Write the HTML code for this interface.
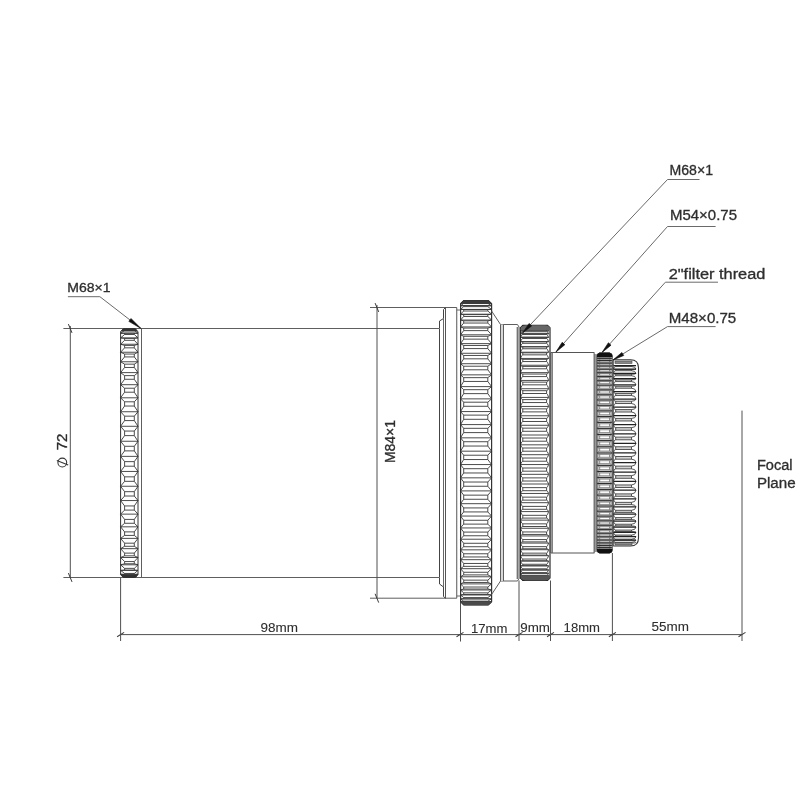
<!DOCTYPE html><html><head><meta charset="utf-8"><style>html,body{margin:0;padding:0;background:#fff;width:800px;height:800px;overflow:hidden}svg{display:block;will-change:transform}</style></head><body><svg width="800" height="800" viewBox="0 0 800 800" shape-rendering="geometricPrecision">
<rect width="800" height="800" fill="#fff"/>
<g font-family="&apos;Liberation Sans&apos;, sans-serif">
<line x1="63.4" y1="328.5" x2="439" y2="328.5" stroke="#5e5e5e" stroke-width="1"/>
<line x1="63.4" y1="577.5" x2="439" y2="577.5" stroke="#5e5e5e" stroke-width="1"/>
<line x1="70.3" y1="326" x2="70.3" y2="577.5" stroke="#505050" stroke-width="1"/>
<line x1="68.4" y1="324.1" x2="72" y2="332.9" stroke="#3a3a3a" stroke-width="1"/>
<line x1="68.4" y1="573.1" x2="72" y2="581.9" stroke="#3a3a3a" stroke-width="1"/>
<line x1="370" y1="307.5" x2="456.75" y2="307.5" stroke="#5e5e5e" stroke-width="1"/>
<line x1="370" y1="598.2" x2="456.75" y2="598.2" stroke="#5e5e5e" stroke-width="1"/>
<line x1="377" y1="305" x2="377" y2="598.2" stroke="#505050" stroke-width="1"/>
<line x1="375.1" y1="303.1" x2="378.7" y2="311.9" stroke="#3a3a3a" stroke-width="1"/>
<line x1="375.1" y1="593.8" x2="378.7" y2="602.6" stroke="#3a3a3a" stroke-width="1"/>
<line x1="120.6" y1="634.6" x2="742" y2="634.6" stroke="#505050" stroke-width="1"/>
<line x1="117.1" y1="636.8" x2="124.1" y2="632.4" stroke="#3a3a3a" stroke-width="1.05"/>
<line x1="456.5" y1="636.8" x2="463.5" y2="632.4" stroke="#3a3a3a" stroke-width="1.05"/>
<line x1="515.5" y1="636.8" x2="522.5" y2="632.4" stroke="#3a3a3a" stroke-width="1.05"/>
<line x1="547" y1="636.8" x2="554" y2="632.4" stroke="#3a3a3a" stroke-width="1.05"/>
<line x1="608.9" y1="636.8" x2="615.9" y2="632.4" stroke="#3a3a3a" stroke-width="1.05"/>
<line x1="738.5" y1="636.8" x2="745.5" y2="632.4" stroke="#3a3a3a" stroke-width="1.05"/>
<line x1="120.6" y1="577.5" x2="120.6" y2="641" stroke="#505050" stroke-width="1"/>
<line x1="460.5" y1="600" x2="460.5" y2="641.5" stroke="#505050" stroke-width="1"/>
<line x1="519" y1="580.5" x2="519" y2="641" stroke="#505050" stroke-width="1"/>
<line x1="550.5" y1="580.5" x2="550.5" y2="641" stroke="#505050" stroke-width="1"/>
<line x1="612.4" y1="553" x2="612.4" y2="641" stroke="#505050" stroke-width="1"/>
<line x1="742" y1="410.6" x2="742" y2="641" stroke="#505050" stroke-width="1"/>
<line x1="141.5" y1="328.5" x2="141.5" y2="577.5" stroke="#5e5e5e" stroke-width="1"/>
<path d="M124.6 329.1H134.3M122.8 329.4L124.6 329.1M135.8 329.4L134.3 329.1M124.6 329.1H134.3M124.6 329.1L121.8 330.4M134.3 329.1L136.8 330.4M124.6 329.1V329.1M134.3 329.1V329.1M124.6 329.59H134.3M121.8 330.4L124.6 329.59M136.8 330.4L134.3 329.59M124.6 330.45H134.3M124.6 330.45L120.6 333.25M134.3 330.45L138 333.25M124.6 329.59V330.45M134.3 329.59V330.45M124.6 333.09H134.3M120.6 333.25L124.6 333.09M138 333.25L134.3 333.09M124.6 334.5H134.3M124.6 334.5L120.6 337.88M134.3 334.5L138 337.88M124.6 333.09V334.5M134.3 333.09V334.5M124.6 338.39H134.3M120.6 337.88L124.6 338.39M138 337.88L134.3 338.39M124.6 340.32H134.3M124.6 340.32L120.6 344.25M134.3 340.32L138 344.25M124.6 338.39V340.32M134.3 338.39V340.32M124.6 345.41H134.3M120.6 344.25L124.6 345.41M138 344.25L134.3 345.41M124.6 347.84H134.3M124.6 347.84L120.6 352.24M134.3 347.84L138 352.24M124.6 345.41V347.84M134.3 345.41V347.84M124.6 354.05H134.3M120.6 352.24L124.6 354.05M138 352.24L134.3 354.05M124.6 356.93H134.3M124.6 356.93L120.6 361.75M134.3 356.93L138 361.75M124.6 354.05V356.93M134.3 354.05V356.93M124.6 364.16H134.3M120.6 361.75L124.6 364.16M138 361.75L134.3 364.16M124.6 367.47H134.3M124.6 367.47L120.6 372.62M134.3 367.47L138 372.62M124.6 364.16V367.47M134.3 364.16V367.47M124.6 375.62H134.3M120.6 372.62L124.6 375.62M138 372.62L134.3 375.62M124.6 379.29H134.3M124.6 379.29L120.6 384.7M134.3 379.29L138 384.7M124.6 375.62V379.29M134.3 375.62V379.29M124.6 388.23H134.3M120.6 384.7L124.6 388.23M138 384.7L134.3 388.23M124.6 392.21H134.3M124.6 392.21L120.6 397.81M134.3 392.21L138 397.81M124.6 388.23V392.21M134.3 388.23V392.21M124.6 401.81H134.3M120.6 397.81L124.6 401.81M138 397.81L134.3 401.81M124.6 406.04H134.3M124.6 406.04L120.6 411.74M134.3 406.04L138 411.74M124.6 401.81V406.04M134.3 401.81V406.04M124.6 416.16H134.3M120.6 411.74L124.6 416.16M138 411.74L134.3 416.16M124.6 420.58H134.3M124.6 420.58L120.6 426.29M134.3 420.58L138 426.29M124.6 416.16V420.58M134.3 416.16V420.58M124.6 431.06H134.3M120.6 426.29L124.6 431.06M138 426.29L134.3 431.06M124.6 435.61H134.3M124.6 435.61L120.6 441.25M134.3 435.61L138 441.25M124.6 431.06V435.61M134.3 431.06V435.61M124.6 446.29H134.3M120.6 441.25L124.6 446.29M138 441.25L134.3 446.29M124.6 450.89H134.3M124.6 450.89L120.6 456.37M134.3 450.89L138 456.37M124.6 446.29V450.89M134.3 446.29V450.89M124.6 461.63H134.3M120.6 456.37L124.6 461.63M138 456.37L134.3 461.63M124.6 466.21H134.3M124.6 466.21L120.6 471.45M134.3 466.21L138 471.45M124.6 461.63V466.21M134.3 461.63V466.21M124.6 476.83H134.3M120.6 471.45L124.6 476.83M138 471.45L134.3 476.83M124.6 481.33H134.3M124.6 481.33L120.6 486.25M134.3 481.33L138 486.25M124.6 476.83V481.33M134.3 476.83V481.33M124.6 491.68H134.3M120.6 486.25L124.6 491.68M138 486.25L134.3 491.68M124.6 496.03H134.3M124.6 496.03L120.6 500.55M134.3 496.03L138 500.55M124.6 491.68V496.03M134.3 491.68V496.03M124.6 505.94H134.3M120.6 500.55L124.6 505.94M138 500.55L134.3 505.94M124.6 510.08H134.3M124.6 510.08L120.6 514.14M134.3 510.08L138 514.14M124.6 505.94V510.08M134.3 505.94V510.08M124.6 519.41H134.3M120.6 514.14L124.6 519.41M138 514.14L134.3 519.41M124.6 523.27H134.3M124.6 523.27L120.6 526.82M134.3 523.27L138 526.82M124.6 519.41V523.27M134.3 519.41V523.27M124.6 531.89H134.3M120.6 526.82L124.6 531.89M138 526.82L134.3 531.89M124.6 535.41H134.3M124.6 535.41L120.6 538.38M134.3 535.41L138 538.38M124.6 531.89V535.41M134.3 531.89V535.41M124.6 543.18H134.3M120.6 538.38L124.6 543.18M138 538.38L134.3 543.18M124.6 546.31H134.3M124.6 546.31L120.6 548.66M134.3 546.31L138 548.66M124.6 543.18V546.31M134.3 543.18V546.31M124.6 553.12H134.3M120.6 548.66L124.6 553.12M138 548.66L134.3 553.12M124.6 555.82H134.3M124.6 555.82L120.6 557.51M134.3 555.82L138 557.51M124.6 553.12V555.82M134.3 553.12V555.82M124.6 561.56H134.3M120.6 557.51L124.6 561.56M138 557.51L134.3 561.56M124.6 563.78H134.3M124.6 563.78L120.6 564.8M134.3 563.78L138 564.8M124.6 561.56V563.78M134.3 561.56V563.78M124.6 568.37H134.3M120.6 564.8L124.6 568.37M138 564.8L134.3 568.37M124.6 570.08H134.3M124.6 570.08L120.6 570.4M134.3 570.08L138 570.4M124.6 568.37V570.08M134.3 568.37V570.08M124.6 573.45H134.3M120.6 570.4L124.6 573.45M138 570.4L134.3 573.45M124.6 574.62H134.3M124.6 574.62L120.6 574.25M134.3 574.62L138 574.25M124.6 573.45V574.62M134.3 573.45V574.62M124.6 576.72H134.3M120.6 574.25L124.6 576.72M138 574.25L134.3 576.72M124.6 577.2H134.3M124.6 577.2L122.17 576.27M134.3 577.2L136.43 576.27M124.6 576.72V577.2M134.3 576.72V577.2M124.6 577.2H134.3M122.17 576.27L124.6 577.2M136.43 576.27L134.3 577.2M124.6 577.2V577.2M134.3 577.2V577.2" stroke="#383838" stroke-width="0.9" fill="none"/>
<path d="M122.8 329.4H135.8M121.8 330.4H136.8M120.6 333.25H138M120.6 337.88H138M120.6 344.25H138M120.6 352.24H138M120.6 361.75H138M120.6 372.62H138M120.6 384.7H138M120.6 397.81H138M120.6 411.74H138M120.6 426.29H138M120.6 441.25H138M120.6 456.37H138M120.6 471.45H138M120.6 486.25H138M120.6 500.55H138M120.6 514.14H138M120.6 526.82H138M120.6 538.38H138M120.6 548.66H138M120.6 557.51H138M120.6 564.8H138M120.6 570.4H138M120.6 574.25H138M122.17 576.27H136.43" stroke="#383838" stroke-width="0.9" fill="none"/>
<path d="M120.6 331.6 L123.4 328.8 L135.2 328.8 L138 331.6 L138 574.7 L135.2 577.5 L123.4 577.5 L120.6 574.7 Z" stroke="#333" stroke-width="1" fill="none"/>
<path d="M120.6 331.6 L123.4 328.8 H135.2 L138 331.6 Z" fill="#333"/>
<path d="M120.6 574.7 L123.4 577.5 H135.2 L138 574.7 Z" fill="#333"/>
<path d="M439.5 328.5 L439.5 321 L443.5 318.5 L443.5 309.5 L445.5 307.5" stroke="#444" stroke-width="1" fill="none"/>
<path d="M439.5 577.5 L439.5 584 L443.5 587 L443.5 596.5 L445.5 598.2" stroke="#444" stroke-width="1" fill="none"/>
<line x1="439.5" y1="328.5" x2="439.5" y2="577.5" stroke="#444" stroke-width="1"/>
<line x1="443.5" y1="318.5" x2="443.5" y2="587" stroke="#666" stroke-width="1"/>
<line x1="445.5" y1="307.5" x2="445.5" y2="598.2" stroke="#555" stroke-width="1"/>
<line x1="456.75" y1="307.5" x2="456.75" y2="598.2" stroke="#555" stroke-width="1"/>
<line x1="456.75" y1="310" x2="460.5" y2="310" stroke="#666" stroke-width="1"/>
<line x1="456.75" y1="596" x2="460.5" y2="596" stroke="#666" stroke-width="1"/>
<path d="M463.7 300.8H487.8M463.7 300.8L462.18 302.02M487.8 300.8L489.92 302.02M463.7 300.8V300.8M487.8 300.8V300.8M463.7 300.95H487.8M462.18 302.02L463.7 300.95M489.92 302.02L487.8 300.95M463.7 301.35H487.8M463.7 301.35L460.87 303.33M487.8 301.35L491.23 303.33M463.7 300.95V301.35M487.8 300.95V301.35M463.7 302.62H487.8M460.87 303.33L463.7 302.62M491.23 303.33L487.8 302.62M463.7 303.4H487.8M463.7 303.4L460.5 305.81M487.8 303.4L491.6 305.81M463.7 302.62V303.4M487.8 302.62V303.4M463.7 305.47H487.8M460.5 305.81L463.7 305.47M491.6 305.81L487.8 305.47M463.7 306.63H487.8M463.7 306.63L460.5 309.44M487.8 306.63L491.6 309.44M463.7 305.47V306.63M487.8 305.47V306.63M463.7 309.48H487.8M460.5 309.44L463.7 309.48M491.6 309.44L487.8 309.48M463.7 311H487.8M463.7 311L460.5 314.19M487.8 311L491.6 314.19M463.7 309.48V311M487.8 309.48V311M463.7 314.61H487.8M460.5 314.19L463.7 314.61M491.6 314.19L487.8 314.61M463.7 316.49H487.8M463.7 316.49L460.5 320.04M487.8 316.49L491.6 320.04M463.7 314.61V316.49M487.8 314.61V316.49M463.7 320.83H487.8M460.5 320.04L463.7 320.83M491.6 320.04L487.8 320.83M463.7 323.04H487.8M463.7 323.04L460.5 326.93M487.8 323.04L491.6 326.93M463.7 320.83V323.04M487.8 320.83V323.04M463.7 328.09H487.8M460.5 326.93L463.7 328.09M491.6 326.93L487.8 328.09M463.7 330.62H487.8M463.7 330.62L460.5 334.8M487.8 330.62L491.6 334.8M463.7 328.09V330.62M487.8 328.09V330.62M463.7 336.32H487.8M460.5 334.8L463.7 336.32M491.6 334.8L487.8 336.32M463.7 339.15H487.8M463.7 339.15L460.5 343.61M487.8 339.15L491.6 343.61M463.7 336.32V339.15M487.8 336.32V339.15M463.7 345.47H487.8M460.5 343.61L463.7 345.47M491.6 343.61L487.8 345.47M463.7 348.58H487.8M463.7 348.58L460.5 353.27M487.8 348.58L491.6 353.27M463.7 345.47V348.58M487.8 345.47V348.58M463.7 355.46H487.8M460.5 353.27L463.7 355.46M491.6 353.27L487.8 355.46M463.7 358.82H487.8M463.7 358.82L460.5 363.71M487.8 358.82L491.6 363.71M463.7 355.46V358.82M487.8 355.46V358.82M463.7 366.22H487.8M460.5 363.71L463.7 366.22M491.6 363.71L487.8 366.22M463.7 369.8H487.8M463.7 369.8L460.5 374.85M487.8 369.8L491.6 374.85M463.7 366.22V369.8M487.8 366.22V369.8M463.7 377.65H487.8M460.5 374.85L463.7 377.65M491.6 374.85L487.8 377.65M463.7 381.44H487.8M463.7 381.44L460.5 386.6M487.8 381.44L491.6 386.6M463.7 377.65V381.44M487.8 377.65V381.44M463.7 389.68H487.8M460.5 386.6L463.7 389.68M491.6 386.6L487.8 389.68M463.7 393.63H487.8M463.7 393.63L460.5 398.87M487.8 393.63L491.6 398.87M463.7 389.68V393.63M487.8 389.68V393.63M463.7 402.2H487.8M460.5 398.87L463.7 402.2M491.6 398.87L487.8 402.2M463.7 406.29H487.8M463.7 406.29L460.5 411.57M487.8 406.29L491.6 411.57M463.7 402.2V406.29M487.8 402.2V406.29M463.7 415.11H487.8M460.5 411.57L463.7 415.11M491.6 411.57L487.8 415.11M463.7 419.31H487.8M463.7 419.31L460.5 424.59M487.8 419.31L491.6 424.59M463.7 415.11V419.31M487.8 415.11V419.31M463.7 428.32H487.8M460.5 424.59L463.7 428.32M491.6 424.59L487.8 428.32M463.7 432.6H487.8M463.7 432.6L460.5 437.83M487.8 432.6L491.6 437.83M463.7 428.32V432.6M487.8 428.32V432.6M463.7 441.73H487.8M460.5 437.83L463.7 441.73M491.6 437.83L487.8 441.73M463.7 446.04H487.8M463.7 446.04L460.5 451.18M487.8 446.04L491.6 451.18M463.7 441.73V446.04M487.8 441.73V446.04M463.7 455.22H487.8M460.5 451.18L463.7 455.22M491.6 451.18L487.8 455.22M463.7 459.54H487.8M463.7 459.54L460.5 464.55M487.8 459.54L491.6 464.55M463.7 455.22V459.54M487.8 455.22V459.54M463.7 468.69H487.8M460.5 464.55L463.7 468.69M491.6 464.55L487.8 468.69M463.7 472.98H487.8M463.7 472.98L460.5 477.83M487.8 472.98L491.6 477.83M463.7 468.69V472.98M487.8 468.69V472.98M463.7 482.03H487.8M460.5 477.83L463.7 482.03M491.6 477.83L487.8 482.03M463.7 486.26H487.8M463.7 486.26L460.5 490.9M487.8 486.26L491.6 490.9M463.7 482.03V486.26M487.8 482.03V486.26M463.7 495.15H487.8M460.5 490.9L463.7 495.15M491.6 490.9L487.8 495.15M463.7 499.28H487.8M463.7 499.28L460.5 503.68M487.8 499.28L491.6 503.68M463.7 495.15V499.28M487.8 495.15V499.28M463.7 507.93H487.8M460.5 503.68L463.7 507.93M491.6 503.68L487.8 507.93M463.7 511.93H487.8M463.7 511.93L460.5 516.06M487.8 511.93L491.6 516.06M463.7 507.93V511.93M487.8 507.93V511.93M463.7 520.28H487.8M460.5 516.06L463.7 520.28M491.6 516.06L487.8 520.28M463.7 524.12H487.8M463.7 524.12L460.5 527.94M487.8 524.12L491.6 527.94M463.7 520.28V524.12M487.8 520.28V524.12M463.7 532.09H487.8M460.5 527.94L463.7 532.09M491.6 527.94L487.8 532.09M463.7 535.75H487.8M463.7 535.75L460.5 539.23M487.8 535.75L491.6 539.23M463.7 532.09V535.75M487.8 532.09V535.75M463.7 543.29H487.8M460.5 539.23L463.7 543.29M491.6 539.23L487.8 543.29M463.7 546.72H487.8M463.7 546.72L460.5 549.83M487.8 546.72L491.6 549.83M463.7 543.29V546.72M487.8 543.29V546.72M463.7 553.77H487.8M460.5 549.83L463.7 553.77M491.6 549.83L487.8 553.77M463.7 556.96H487.8M463.7 556.96L460.5 559.68M487.8 556.96L491.6 559.68M463.7 553.77V556.96M487.8 553.77V556.96M463.7 563.46H487.8M460.5 559.68L463.7 563.46M491.6 559.68L487.8 563.46M463.7 566.37H487.8M463.7 566.37L460.5 568.68M487.8 566.37L491.6 568.68M463.7 563.46V566.37M487.8 563.46V566.37M463.7 572.27H487.8M460.5 568.68L463.7 572.27M491.6 568.68L487.8 572.27M463.7 574.9H487.8M463.7 574.9L460.5 576.78M487.8 574.9L491.6 576.78M463.7 572.27V574.9M487.8 572.27V574.9M463.7 580.15H487.8M460.5 576.78L463.7 580.15M491.6 576.78L487.8 580.15M463.7 582.46H487.8M463.7 582.46L460.5 583.9M487.8 582.46L491.6 583.9M463.7 580.15V582.46M487.8 580.15V582.46M463.7 587.03H487.8M460.5 583.9L463.7 587.03M491.6 583.9L487.8 587.03M463.7 589.01H487.8M463.7 589.01L460.5 589.99M487.8 589.01L491.6 589.99M463.7 587.03V589.01M487.8 587.03V589.01M463.7 592.85H487.8M460.5 589.99L463.7 592.85M491.6 589.99L487.8 592.85M463.7 594.48H487.8M463.7 594.48L460.5 594.99M487.8 594.48L491.6 594.99M463.7 592.85V594.48M487.8 592.85V594.48M463.7 597.57H487.8M460.5 594.99L463.7 597.57M491.6 594.99L487.8 597.57M463.7 598.84H487.8M463.7 598.84L460.5 598.89M487.8 598.84L491.6 598.89M463.7 597.57V598.84M487.8 597.57V598.84M463.7 601.15H487.8M460.5 598.89L463.7 601.15M491.6 598.89L487.8 601.15M463.7 602.05H487.8M463.7 602.05L460.5 601.63M487.8 602.05L491.6 601.63M463.7 601.15V602.05M487.8 601.15V602.05M463.7 603.56H487.8M460.5 601.63L463.7 603.56M491.6 601.63L487.8 603.56M463.7 604.09H487.8M463.7 604.09L461.9 603.2M487.8 604.09L490.2 603.2M463.7 603.56V604.09M487.8 603.56V604.09M463.7 604.7H487.8M461.9 603.2L463.7 604.7M490.2 603.2L487.8 604.7M463.7 604.7H487.8M463.7 604.7V604.7M487.8 604.7V604.7" stroke="#383838" stroke-width="0.9" fill="none"/>
<path d="M462.18 302.02H489.92M460.87 303.33H491.23M460.5 305.81H491.6M460.5 309.44H491.6M460.5 314.19H491.6M460.5 320.04H491.6M460.5 326.93H491.6M460.5 334.8H491.6M460.5 343.61H491.6M460.5 353.27H491.6M460.5 363.71H491.6M460.5 374.85H491.6M460.5 386.6H491.6M460.5 398.87H491.6M460.5 411.57H491.6M460.5 424.59H491.6M460.5 437.83H491.6M460.5 451.18H491.6M460.5 464.55H491.6M460.5 477.83H491.6M460.5 490.9H491.6M460.5 503.68H491.6M460.5 516.06H491.6M460.5 527.94H491.6M460.5 539.23H491.6M460.5 549.83H491.6M460.5 559.68H491.6M460.5 568.68H491.6M460.5 576.78H491.6M460.5 583.9H491.6M460.5 589.99H491.6M460.5 594.99H491.6M460.5 598.89H491.6M460.5 601.63H491.6M461.9 603.2H490.2" stroke="#383838" stroke-width="0.9" fill="none"/>
<path d="M460.6 303.7 L463.8 300.5 L488.4 300.5 L491.6 303.7 L491.6 601.8 L488.4 605 L463.8 605 L460.6 601.8 Z" stroke="#333" stroke-width="1.2" fill="none"/>
<path d="M460.6 303.7 L463.8 300.5 H488.4 L491.6 303.7 Z" fill="#3a3a3a"/>
<path d="M460.6 601.8 L463.8 605 H488.4 L491.6 601.8 Z" fill="#4a4a4a"/>
<path d="M491.6 311 L500.5 324.5 L517.5 324.5 L519 327" stroke="#5e5e5e" stroke-width="1" fill="none"/>
<path d="M491.6 594.5 L500.5 581 L517.5 581 L519 578.5" stroke="#5e5e5e" stroke-width="1" fill="none"/>
<rect x="500.5" y="324.5" width="3" height="256.5" fill="#d8d8d8"/>
<line x1="500.5" y1="324.5" x2="500.5" y2="581" stroke="#5e5e5e" stroke-width="1"/>
<line x1="503.5" y1="324.5" x2="503.5" y2="581" stroke="#5e5e5e" stroke-width="1"/>
<rect x="517.2" y="327" width="3" height="252" fill="#a8a8a8"/>
<line x1="517.2" y1="327" x2="517.2" y2="579" stroke="#555" stroke-width="1"/>
<rect x="549.8" y="352.5" width="2.4" height="200.5" fill="#a8a8a8"/>
<path d="M522.8 325.6H546.6M521.17 327.13Q522.32 325.6 522.8 325.6M547.93 327.13Q546.93 325.6 546.6 325.6M522.8 325.63H546.6M522.8 325.63Q521.78 325.63 520.63 327.67M546.6 325.63Q547.47 325.63 548.47 327.67M522.8 325.6V325.63M546.6 325.6V325.63M522.8 326.26H546.6M520.63 327.67Q521.78 326.26 522.8 326.26M548.47 327.67Q547.47 326.26 546.6 326.26M522.8 326.68H546.6M522.8 326.68Q521.65 326.68 520.5 328.97M546.6 326.68Q547.6 326.68 548.6 328.97M522.8 326.26V326.68M546.6 326.26V326.68M522.8 327.84H546.6M520.5 328.97Q521.65 327.84 522.8 327.84M548.6 328.97Q547.6 327.84 546.6 327.84M522.8 328.5H546.6M522.8 328.5Q521.65 328.5 520.5 331.04M546.6 328.5Q547.6 328.5 548.6 331.04M522.8 327.84V328.5M546.6 327.84V328.5M522.8 330.19H546.6M520.5 331.04Q521.65 330.19 522.8 330.19M548.6 331.04Q547.6 330.19 546.6 330.19M522.8 331.1H546.6M522.8 331.1Q521.65 331.1 520.5 333.86M546.6 331.1Q547.6 331.1 548.6 333.86M522.8 330.19V331.1M546.6 330.19V331.1M522.8 333.29H546.6M520.5 333.86Q521.65 333.29 522.8 333.29M548.6 333.86Q547.6 333.29 546.6 333.29M522.8 334.44H546.6M522.8 334.44Q521.65 334.44 520.5 337.41M546.6 334.44Q547.6 334.44 548.6 337.41M522.8 333.29V334.44M546.6 333.29V334.44M522.8 337.14H546.6M520.5 337.41Q521.65 337.14 522.8 337.14M548.6 337.41Q547.6 337.14 546.6 337.14M522.8 338.52H546.6M522.8 338.52Q521.65 338.52 520.5 341.68M546.6 338.52Q547.6 338.52 548.6 341.68M522.8 337.14V338.52M546.6 337.14V338.52M522.8 341.69H546.6M520.5 341.68Q521.65 341.69 522.8 341.69M548.6 341.68Q547.6 341.69 546.6 341.69M522.8 343.3H546.6M522.8 343.3Q521.65 343.3 520.5 346.63M546.6 343.3Q547.6 343.3 548.6 346.63M522.8 341.69V343.3M546.6 341.69V343.3M522.8 346.93H546.6M520.5 346.63Q521.65 346.93 522.8 346.93M548.6 346.63Q547.6 346.93 546.6 346.93M522.8 348.75H546.6M522.8 348.75Q521.65 348.75 520.5 352.23M546.6 348.75Q547.6 348.75 548.6 352.23M522.8 346.93V348.75M546.6 346.93V348.75M522.8 352.83H546.6M520.5 352.23Q521.65 352.83 522.8 352.83M548.6 352.23Q547.6 352.83 546.6 352.83M522.8 354.85H546.6M522.8 354.85Q521.65 354.85 520.5 358.45M546.6 354.85Q547.6 354.85 548.6 358.45M522.8 352.83V354.85M546.6 352.83V354.85M522.8 359.34H546.6M520.5 358.45Q521.65 359.34 522.8 359.34M548.6 358.45Q547.6 359.34 546.6 359.34M522.8 361.55H546.6M522.8 361.55Q521.65 361.55 520.5 365.26M546.6 361.55Q547.6 361.55 548.6 365.26M522.8 359.34V361.55M546.6 359.34V361.55M522.8 366.43H546.6M520.5 365.26Q521.65 366.43 522.8 366.43M548.6 365.26Q547.6 366.43 546.6 366.43M522.8 368.81H546.6M522.8 368.81Q521.65 368.81 520.5 372.61M546.6 368.81Q547.6 368.81 548.6 372.61M522.8 366.43V368.81M546.6 366.43V368.81M522.8 374.05H546.6M520.5 372.61Q521.65 374.05 522.8 374.05M548.6 372.61Q547.6 374.05 546.6 374.05M522.8 376.59H546.6M522.8 376.59Q521.65 376.59 520.5 380.45M546.6 376.59Q547.6 376.59 548.6 380.45M522.8 374.05V376.59M546.6 374.05V376.59M522.8 382.15H546.6M520.5 380.45Q521.65 382.15 522.8 382.15M548.6 380.45Q547.6 382.15 546.6 382.15M522.8 384.84H546.6M522.8 384.84Q521.65 384.84 520.5 388.73M546.6 384.84Q547.6 384.84 548.6 388.73M522.8 382.15V384.84M546.6 382.15V384.84M522.8 390.69H546.6M520.5 388.73Q521.65 390.69 522.8 390.69M548.6 388.73Q547.6 390.69 546.6 390.69M522.8 393.51H546.6M522.8 393.51Q521.65 393.51 520.5 397.42M546.6 393.51Q547.6 393.51 548.6 397.42M522.8 390.69V393.51M546.6 390.69V393.51M522.8 399.62H546.6M520.5 397.42Q521.65 399.62 522.8 399.62M548.6 397.42Q547.6 399.62 546.6 399.62M522.8 402.55H546.6M522.8 402.55Q521.65 402.55 520.5 406.44M546.6 402.55Q547.6 402.55 548.6 406.44M522.8 399.62V402.55M546.6 399.62V402.55M522.8 408.87H546.6M520.5 406.44Q521.65 408.87 522.8 408.87M548.6 406.44Q547.6 408.87 546.6 408.87M522.8 411.89H546.6M522.8 411.89Q521.65 411.89 520.5 415.75M546.6 411.89Q547.6 411.89 548.6 415.75M522.8 408.87V411.89M546.6 408.87V411.89M522.8 418.4H546.6M520.5 415.75Q521.65 418.4 522.8 418.4M548.6 415.75Q547.6 418.4 546.6 418.4M522.8 421.49H546.6M522.8 421.49Q521.65 421.49 520.5 425.29M546.6 421.49Q547.6 421.49 548.6 425.29M522.8 418.4V421.49M546.6 418.4V421.49M522.8 428.13H546.6M520.5 425.29Q521.65 428.13 522.8 428.13M548.6 425.29Q547.6 428.13 546.6 428.13M522.8 431.29H546.6M522.8 431.29Q521.65 431.29 520.5 435M546.6 431.29Q547.6 431.29 548.6 435M522.8 428.13V431.29M546.6 428.13V431.29M522.8 438.02H546.6M520.5 435Q521.65 438.02 522.8 438.02M548.6 435Q547.6 438.02 546.6 438.02M522.8 441.21H546.6M522.8 441.21Q521.65 441.21 520.5 444.82M546.6 441.21Q547.6 441.21 548.6 444.82M522.8 438.02V441.21M546.6 438.02V441.21M522.8 448.01H546.6M520.5 444.82Q521.65 448.01 522.8 448.01M548.6 444.82Q547.6 448.01 546.6 448.01M522.8 451.21H546.6M522.8 451.21Q521.65 451.21 520.5 454.69M546.6 451.21Q547.6 451.21 548.6 454.69M522.8 448.01V451.21M546.6 448.01V451.21M522.8 458.02H546.6M520.5 454.69Q521.65 458.02 522.8 458.02M548.6 454.69Q547.6 458.02 546.6 458.02M522.8 461.22H546.6M522.8 461.22Q521.65 461.22 520.5 464.55M546.6 461.22Q547.6 461.22 548.6 464.55M522.8 458.02V461.22M546.6 458.02V461.22M522.8 468H546.6M520.5 464.55Q521.65 468 522.8 468M548.6 464.55Q547.6 468 546.6 468M522.8 471.18H546.6M522.8 471.18Q521.65 471.18 520.5 474.34M546.6 471.18Q547.6 471.18 548.6 474.34M522.8 468V471.18M546.6 468V471.18M522.8 477.89H546.6M520.5 474.34Q521.65 477.89 522.8 477.89M548.6 474.34Q547.6 477.89 546.6 477.89M522.8 481.02H546.6M522.8 481.02Q521.65 481.02 520.5 484M546.6 481.02Q547.6 481.02 548.6 484M522.8 477.89V481.02M546.6 477.89V481.02M522.8 487.63H546.6M520.5 484Q521.65 487.63 522.8 487.63M548.6 484Q547.6 487.63 546.6 487.63M522.8 490.7H546.6M522.8 490.7Q521.65 490.7 520.5 493.46M546.6 490.7Q547.6 490.7 548.6 493.46M522.8 487.63V490.7M546.6 487.63V490.7M522.8 497.15H546.6M520.5 493.46Q521.65 497.15 522.8 497.15M548.6 493.46Q547.6 497.15 546.6 497.15M522.8 500.14H546.6M522.8 500.14Q521.65 500.14 520.5 502.68M546.6 500.14Q547.6 500.14 548.6 502.68M522.8 497.15V500.14M546.6 497.15V500.14M522.8 506.4H546.6M520.5 502.68Q521.65 506.4 522.8 506.4M548.6 502.68Q547.6 506.4 546.6 506.4M522.8 509.29H546.6M522.8 509.29Q521.65 509.29 520.5 511.59M546.6 509.29Q547.6 509.29 548.6 511.59M522.8 506.4V509.29M546.6 506.4V509.29M522.8 515.32H546.6M520.5 511.59Q521.65 515.32 522.8 515.32M548.6 511.59Q547.6 515.32 546.6 515.32M522.8 518.09H546.6M522.8 518.09Q521.65 518.09 520.5 520.14M546.6 518.09Q547.6 518.09 548.6 520.14M522.8 515.32V518.09M546.6 515.32V518.09M522.8 523.85H546.6M520.5 520.14Q521.65 523.85 522.8 523.85M548.6 520.14Q547.6 523.85 546.6 523.85M522.8 526.5H546.6M522.8 526.5Q521.65 526.5 520.5 528.27M546.6 526.5Q547.6 526.5 548.6 528.27M522.8 523.85V526.5M546.6 523.85V526.5M522.8 531.95H546.6M520.5 528.27Q521.65 531.95 522.8 531.95M548.6 528.27Q547.6 531.95 546.6 531.95M522.8 534.45H546.6M522.8 534.45Q521.65 534.45 520.5 535.94M546.6 534.45Q547.6 534.45 548.6 535.94M522.8 531.95V534.45M546.6 531.95V534.45M522.8 539.57H546.6M520.5 535.94Q521.65 539.57 522.8 539.57M548.6 535.94Q547.6 539.57 546.6 539.57M522.8 541.89H546.6M522.8 541.89Q521.65 541.89 520.5 543.1M546.6 541.89Q547.6 541.89 548.6 543.1M522.8 539.57V541.89M546.6 539.57V541.89M522.8 546.65H546.6M520.5 543.1Q521.65 546.65 522.8 546.65M548.6 543.1Q547.6 546.65 546.6 546.65M522.8 548.79H546.6M522.8 548.79Q521.65 548.79 520.5 549.71M546.6 548.79Q547.6 548.79 548.6 549.71M522.8 546.65V548.79M546.6 546.65V548.79M522.8 553.15H546.6M520.5 549.71Q521.65 553.15 522.8 553.15M548.6 549.71Q547.6 553.15 546.6 553.15M522.8 555.1H546.6M522.8 555.1Q521.65 555.1 520.5 555.72M546.6 555.1Q547.6 555.1 548.6 555.72M522.8 553.15V555.1M546.6 553.15V555.1M522.8 559.04H546.6M520.5 555.72Q521.65 559.04 522.8 559.04M548.6 555.72Q547.6 559.04 546.6 559.04M522.8 560.78H546.6M522.8 560.78Q521.65 560.78 520.5 561.1M546.6 560.78Q547.6 560.78 548.6 561.1M522.8 559.04V560.78M546.6 559.04V560.78M522.8 564.27H546.6M520.5 561.1Q521.65 564.27 522.8 564.27M548.6 561.1Q547.6 564.27 546.6 564.27M522.8 565.8H546.6M522.8 565.8Q521.65 565.8 520.5 565.81M546.6 565.8Q547.6 565.8 548.6 565.81M522.8 564.27V565.8M546.6 564.27V565.8M522.8 568.82H546.6M520.5 565.81Q521.65 568.82 522.8 568.82M548.6 565.81Q547.6 568.82 546.6 568.82M522.8 570.12H546.6M522.8 570.12Q521.65 570.12 520.5 569.82M546.6 570.12Q547.6 570.12 548.6 569.82M522.8 568.82V570.12M546.6 568.82V570.12M522.8 572.65H546.6M520.5 569.82Q521.65 572.65 522.8 572.65M548.6 569.82Q547.6 572.65 546.6 572.65M522.8 573.72H546.6M522.8 573.72Q521.65 573.72 520.5 573.12M546.6 573.72Q547.6 573.72 548.6 573.12M522.8 572.65V573.72M546.6 572.65V573.72M522.8 575.75H546.6M520.5 573.12Q521.65 575.75 522.8 575.75M548.6 573.12Q547.6 575.75 546.6 575.75M522.8 576.58H546.6M522.8 576.58Q521.65 576.58 520.5 575.67M546.6 576.58Q547.6 576.58 548.6 575.67M522.8 575.75V576.58M546.6 575.75V576.58M522.8 578.09H546.6M520.5 575.67Q521.65 578.09 522.8 578.09M548.6 575.67Q547.6 578.09 546.6 578.09M522.8 578.68H546.6M522.8 578.68Q521.65 578.68 520.5 577.48M546.6 578.68Q547.6 578.68 548.6 577.48M522.8 578.09V578.68M546.6 578.09V578.68M522.8 579.66H546.6M520.5 577.48Q521.65 579.66 522.8 579.66M548.6 577.48Q547.6 579.66 546.6 579.66M522.8 580H546.6M522.8 580Q522.16 580 521.01 578.51M546.6 580Q547.09 580 548.09 578.51M522.8 579.66V580M546.6 579.66V580M522.8 580.2H546.6M521.01 578.51Q522.16 580.2 522.8 580.2M548.09 578.51Q547.09 580.2 546.6 580.2M522.8 580.2H546.6M522.8 580.2V580.2M546.6 580.2V580.2" stroke="#383838" stroke-width="0.9" fill="none"/>
<path d="M521.17 327.13H547.93M520.63 327.67H548.47M520.5 328.97H548.6M520.5 331.04H548.6M520.5 333.86H548.6M520.5 337.41H548.6M520.5 341.68H548.6M520.5 346.63H548.6M520.5 352.23H548.6M520.5 358.45H548.6M520.5 365.26H548.6M520.5 372.61H548.6M520.5 380.45H548.6M520.5 388.73H548.6M520.5 397.42H548.6M520.5 406.44H548.6M520.5 415.75H548.6M520.5 425.29H548.6M520.5 435H548.6M520.5 444.82H548.6M520.5 454.69H548.6M520.5 464.55H548.6M520.5 474.34H548.6M520.5 484H548.6M520.5 493.46H548.6M520.5 502.68H548.6M520.5 511.59H548.6M520.5 520.14H548.6M520.5 528.27H548.6M520.5 535.94H548.6M520.5 543.1H548.6M520.5 549.71H548.6M520.5 555.72H548.6M520.5 561.1H548.6M520.5 565.81H548.6M520.5 569.82H548.6M520.5 573.12H548.6M520.5 575.67H548.6M520.5 577.48H548.6M521.01 578.51H548.09" stroke="#383838" stroke-width="0.9" fill="none"/>
<path d="M520.4 327.8 L522.9 325.3 L547.5 325.3 L550 327.8 L550 578 L547.5 580.5 L522.9 580.5 L520.4 578 Z" stroke="#2a2a2a" stroke-width="1.2" fill="none"/>
<path d="M521 327 Q523 325.3 526 325.3 H545 Q548 325.3 550 327.5 V330 H520.4 Z" fill="#666"/>
<path d="M521 578.8 Q523 580.5 526 580.5 H545 Q548 580.5 550 578.3 V575.5 H520.4 Z" fill="#555"/>
<line x1="551" y1="352.5" x2="594.5" y2="352.5" stroke="#555" stroke-width="1"/>
<line x1="551" y1="553" x2="594.5" y2="553" stroke="#555" stroke-width="1"/>
<line x1="552.3" y1="352.5" x2="552.3" y2="553" stroke="#666" stroke-width="1"/>
<rect x="594.1" y="354" width="2.9" height="198" fill="#999"/>
<line x1="594.1" y1="353" x2="594.1" y2="553" stroke="#555" stroke-width="1"/>
<rect x="597" y="353" width="15.3" height="200" rx="3" fill="#c4c4c4"/>
<path d="M599.7 353.1H609.5V353.1H599.7ZM599.7 353.34H609.5V353.62H599.7ZM599.7 354.11H609.5V354.56H599.7ZM599.7 355.27H609.5V355.88H599.7ZM599.7 356.8H609.5V357.57H599.7ZM599.7 358.71H609.5V359.64H599.7ZM599.7 360.98H609.5V362.06H599.7ZM599.7 363.6H609.5V364.84H599.7ZM599.7 366.57H609.5V367.96H599.7ZM599.7 369.88H609.5V371.4H599.7ZM599.7 373.51H609.5V375.16H599.7ZM599.7 377.44H609.5V379.23H599.7ZM599.7 381.67H609.5V383.58H599.7ZM599.7 386.18H609.5V388.19H599.7ZM599.7 390.94H609.5V393.06H599.7ZM599.7 395.94H609.5V398.16H599.7ZM599.7 401.16H609.5V403.47H599.7ZM599.7 406.59H609.5V408.97H599.7ZM599.7 412.19H609.5V414.65H599.7ZM599.7 417.95H609.5V420.47H599.7ZM599.7 423.84H609.5V426.42H599.7ZM599.7 429.85H609.5V432.47H599.7ZM599.7 435.95H609.5V438.6H599.7ZM599.7 442.12H609.5V444.78H599.7ZM599.7 448.32H609.5V451H599.7ZM599.7 454.55H609.5V457.22H599.7ZM599.7 460.76H609.5V463.43H599.7ZM599.7 466.95H609.5V469.6H599.7ZM599.7 473.09H609.5V475.7H599.7ZM599.7 479.14H609.5V481.72H599.7ZM599.7 485.1H609.5V487.62H599.7ZM599.7 490.93H609.5V493.4H599.7ZM599.7 496.62H609.5V499.01H599.7ZM599.7 502.13H609.5V504.45H599.7ZM599.7 507.46H609.5V509.69H599.7ZM599.7 512.57H609.5V514.7H599.7ZM599.7 517.46H609.5V519.48H599.7ZM599.7 522.1H609.5V524.01H599.7ZM599.7 526.46H609.5V528.26H599.7ZM599.7 530.55H609.5V532.21H599.7ZM599.7 534.33H609.5V535.86H599.7ZM599.7 537.8H609.5V539.19H599.7ZM599.7 540.94H609.5V542.19H599.7ZM599.7 543.75H609.5V544.84H599.7ZM599.7 546.2H609.5V547.14H599.7ZM599.7 548.29H609.5V549.07H599.7ZM599.7 550.01H609.5V550.63H599.7ZM599.7 551.36H609.5V551.82H599.7ZM599.7 552.32H609.5V552.62H599.7ZM599.7 552.7H609.5V552.7H599.7ZM599.7 552.7H609.5V552.7H599.7Z" fill="#ffffff"/>
<path d="M599.7 353.1H609.5M599.29 353.11Q600.33 353.1 599.7 353.1M609.61 353.11Q608.69 353.1 609.5 353.1M599.7 353.1H609.5M599.7 353.1Q600.04 353.1 599 353.4M609.5 353.1Q608.98 353.1 609.9 353.4M599.7 353.1V353.1M609.5 353.1V353.1M599.7 353.34H609.5M599 353.4Q600.04 353.34 599.7 353.34M609.9 353.4Q608.98 353.34 609.5 353.34M599.7 353.62H609.5M599.7 353.62Q599.36 353.62 598.32 354.08M609.5 353.62Q609.66 353.62 610.58 354.08M599.7 353.34V353.62M609.5 353.34V353.62M599.7 354.11H609.5M598.32 354.08Q599.36 354.11 599.7 354.11M610.58 354.08Q609.66 354.11 609.5 354.11M599.7 354.56H609.5M599.7 354.56Q598.3 354.56 597.26 355.14M609.5 354.56Q610.72 354.56 611.64 355.14M599.7 354.11V354.56M609.5 354.11V354.56M599.7 355.27H609.5M597.26 355.14Q598.3 355.27 599.7 355.27M611.64 355.14Q610.72 355.27 609.5 355.27M599.7 355.88H609.5M599.7 355.88Q598.14 355.88 597.1 356.57M609.5 355.88Q610.88 355.88 611.8 356.57M599.7 355.27V355.88M609.5 355.27V355.88M599.7 356.8H609.5M597.1 356.57Q598.14 356.8 599.7 356.8M611.8 356.57Q610.88 356.8 609.5 356.8M599.7 357.57H609.5M599.7 357.57Q598.14 357.57 597.1 358.38M609.5 357.57Q610.88 357.57 611.8 358.38M599.7 356.8V357.57M609.5 356.8V357.57M599.7 358.71H609.5M597.1 358.38Q598.14 358.71 599.7 358.71M611.8 358.38Q610.88 358.71 609.5 358.71M599.7 359.64H609.5M599.7 359.64Q598.14 359.64 597.1 360.56M609.5 359.64Q610.88 359.64 611.8 360.56M599.7 358.71V359.64M609.5 358.71V359.64M599.7 360.98H609.5M597.1 360.56Q598.14 360.98 599.7 360.98M611.8 360.56Q610.88 360.98 609.5 360.98M599.7 362.06H609.5M599.7 362.06Q598.14 362.06 597.1 363.09M609.5 362.06Q610.88 362.06 611.8 363.09M599.7 360.98V362.06M609.5 360.98V362.06M599.7 363.6H609.5M597.1 363.09Q598.14 363.6 599.7 363.6M611.8 363.09Q610.88 363.6 609.5 363.6M599.7 364.84H609.5M599.7 364.84Q598.14 364.84 597.1 365.97M609.5 364.84Q610.88 364.84 611.8 365.97M599.7 363.6V364.84M609.5 363.6V364.84M599.7 366.57H609.5M597.1 365.97Q598.14 366.57 599.7 366.57M611.8 365.97Q610.88 366.57 609.5 366.57M599.7 367.96H609.5M599.7 367.96Q598.14 367.96 597.1 369.19M609.5 367.96Q610.88 367.96 611.8 369.19M599.7 366.57V367.96M609.5 366.57V367.96M599.7 369.88H609.5M597.1 369.19Q598.14 369.88 599.7 369.88M611.8 369.19Q610.88 369.88 609.5 369.88M599.7 371.4H609.5M599.7 371.4Q598.14 371.4 597.1 372.73M609.5 371.4Q610.88 371.4 611.8 372.73M599.7 369.88V371.4M609.5 369.88V371.4M599.7 373.51H609.5M597.1 372.73Q598.14 373.51 599.7 373.51M611.8 372.73Q610.88 373.51 609.5 373.51M599.7 375.16H609.5M599.7 375.16Q598.14 375.16 597.1 376.59M609.5 375.16Q610.88 375.16 611.8 376.59M599.7 373.51V375.16M609.5 373.51V375.16M599.7 377.44H609.5M597.1 376.59Q598.14 377.44 599.7 377.44M611.8 376.59Q610.88 377.44 609.5 377.44M599.7 379.23H609.5M599.7 379.23Q598.14 379.23 597.1 380.73M609.5 379.23Q610.88 379.23 611.8 380.73M599.7 377.44V379.23M609.5 377.44V379.23M599.7 381.67H609.5M597.1 380.73Q598.14 381.67 599.7 381.67M611.8 380.73Q610.88 381.67 609.5 381.67M599.7 383.58H609.5M599.7 383.58Q598.14 383.58 597.1 385.16M609.5 383.58Q610.88 383.58 611.8 385.16M599.7 381.67V383.58M609.5 381.67V383.58M599.7 386.18H609.5M597.1 385.16Q598.14 386.18 599.7 386.18M611.8 385.16Q610.88 386.18 609.5 386.18M599.7 388.19H609.5M599.7 388.19Q598.14 388.19 597.1 389.85M609.5 388.19Q610.88 388.19 611.8 389.85M599.7 386.18V388.19M609.5 386.18V388.19M599.7 390.94H609.5M597.1 389.85Q598.14 390.94 599.7 390.94M611.8 389.85Q610.88 390.94 609.5 390.94M599.7 393.06H609.5M599.7 393.06Q598.14 393.06 597.1 394.78M609.5 393.06Q610.88 393.06 611.8 394.78M599.7 390.94V393.06M609.5 390.94V393.06M599.7 395.94H609.5M597.1 394.78Q598.14 395.94 599.7 395.94M611.8 394.78Q610.88 395.94 609.5 395.94M599.7 398.16H609.5M599.7 398.16Q598.14 398.16 597.1 399.94M609.5 398.16Q610.88 398.16 611.8 399.94M599.7 395.94V398.16M609.5 395.94V398.16M599.7 401.16H609.5M597.1 399.94Q598.14 401.16 599.7 401.16M611.8 399.94Q610.88 401.16 609.5 401.16M599.7 403.47H609.5M599.7 403.47Q598.14 403.47 597.1 405.31M609.5 403.47Q610.88 403.47 611.8 405.31M599.7 401.16V403.47M609.5 401.16V403.47M599.7 406.59H609.5M597.1 405.31Q598.14 406.59 599.7 406.59M611.8 405.31Q610.88 406.59 609.5 406.59M599.7 408.97H609.5M599.7 408.97Q598.14 408.97 597.1 410.86M609.5 408.97Q610.88 408.97 611.8 410.86M599.7 406.59V408.97M609.5 406.59V408.97M599.7 412.19H609.5M597.1 410.86Q598.14 412.19 599.7 412.19M611.8 410.86Q610.88 412.19 609.5 412.19M599.7 414.65H609.5M599.7 414.65Q598.14 414.65 597.1 416.57M609.5 414.65Q610.88 414.65 611.8 416.57M599.7 412.19V414.65M609.5 412.19V414.65M599.7 417.95H609.5M597.1 416.57Q598.14 417.95 599.7 417.95M611.8 416.57Q610.88 417.95 609.5 417.95M599.7 420.47H609.5M599.7 420.47Q598.14 420.47 597.1 422.42M609.5 420.47Q610.88 420.47 611.8 422.42M599.7 417.95V420.47M609.5 417.95V420.47M599.7 423.84H609.5M597.1 422.42Q598.14 423.84 599.7 423.84M611.8 422.42Q610.88 423.84 609.5 423.84M599.7 426.42H609.5M599.7 426.42Q598.14 426.42 597.1 428.39M609.5 426.42Q610.88 426.42 611.8 428.39M599.7 423.84V426.42M609.5 423.84V426.42M599.7 429.85H609.5M597.1 428.39Q598.14 429.85 599.7 429.85M611.8 428.39Q610.88 429.85 609.5 429.85M599.7 432.47H609.5M599.7 432.47Q598.14 432.47 597.1 434.46M609.5 432.47Q610.88 432.47 611.8 434.46M599.7 429.85V432.47M609.5 429.85V432.47M599.7 435.95H609.5M597.1 434.46Q598.14 435.95 599.7 435.95M611.8 434.46Q610.88 435.95 609.5 435.95M599.7 438.6H609.5M599.7 438.6Q598.14 438.6 597.1 440.59M609.5 438.6Q610.88 438.6 611.8 440.59M599.7 435.95V438.6M609.5 435.95V438.6M599.7 442.12H609.5M597.1 440.59Q598.14 442.12 599.7 442.12M611.8 440.59Q610.88 442.12 609.5 442.12M599.7 444.78H609.5M599.7 444.78Q598.14 444.78 597.1 446.78M609.5 444.78Q610.88 444.78 611.8 446.78M599.7 442.12V444.78M609.5 442.12V444.78M599.7 448.32H609.5M597.1 446.78Q598.14 448.32 599.7 448.32M611.8 446.78Q610.88 448.32 609.5 448.32M599.7 451H609.5M599.7 451Q598.14 451 597.1 452.99M609.5 451Q610.88 451 611.8 452.99M599.7 448.32V451M609.5 448.32V451M599.7 454.55H609.5M597.1 452.99Q598.14 454.55 599.7 454.55M611.8 452.99Q610.88 454.55 609.5 454.55M599.7 457.22H609.5M599.7 457.22Q598.14 457.22 597.1 459.2M609.5 457.22Q610.88 457.22 611.8 459.2M599.7 454.55V457.22M609.5 454.55V457.22M599.7 460.76H609.5M597.1 459.2Q598.14 460.76 599.7 460.76M611.8 459.2Q610.88 460.76 609.5 460.76M599.7 463.43H609.5M599.7 463.43Q598.14 463.43 597.1 465.39M609.5 463.43Q610.88 463.43 611.8 465.39M599.7 460.76V463.43M609.5 460.76V463.43M599.7 466.95H609.5M597.1 465.39Q598.14 466.95 599.7 466.95M611.8 465.39Q610.88 466.95 609.5 466.95M599.7 469.6H609.5M599.7 469.6Q598.14 469.6 597.1 471.52M609.5 469.6Q610.88 469.6 611.8 471.52M599.7 466.95V469.6M609.5 466.95V469.6M599.7 473.09H609.5M597.1 471.52Q598.14 473.09 599.7 473.09M611.8 471.52Q610.88 473.09 609.5 473.09M599.7 475.7H609.5M599.7 475.7Q598.14 475.7 597.1 477.59M609.5 475.7Q610.88 475.7 611.8 477.59M599.7 473.09V475.7M609.5 473.09V475.7M599.7 479.14H609.5M597.1 477.59Q598.14 479.14 599.7 479.14M611.8 477.59Q610.88 479.14 609.5 479.14M599.7 481.72H609.5M599.7 481.72Q598.14 481.72 597.1 483.56M609.5 481.72Q610.88 481.72 611.8 483.56M599.7 479.14V481.72M609.5 479.14V481.72M599.7 485.1H609.5M597.1 483.56Q598.14 485.1 599.7 485.1M611.8 483.56Q610.88 485.1 609.5 485.1M599.7 487.62H609.5M599.7 487.62Q598.14 487.62 597.1 489.41M609.5 487.62Q610.88 487.62 611.8 489.41M599.7 485.1V487.62M609.5 485.1V487.62M599.7 490.93H609.5M597.1 489.41Q598.14 490.93 599.7 490.93M611.8 489.41Q610.88 490.93 609.5 490.93M599.7 493.4H609.5M599.7 493.4Q598.14 493.4 597.1 495.13M609.5 493.4Q610.88 493.4 611.8 495.13M599.7 490.93V493.4M609.5 490.93V493.4M599.7 496.62H609.5M597.1 495.13Q598.14 496.62 599.7 496.62M611.8 495.13Q610.88 496.62 609.5 496.62M599.7 499.01H609.5M599.7 499.01Q598.14 499.01 597.1 500.68M609.5 499.01Q610.88 499.01 611.8 500.68M599.7 496.62V499.01M609.5 496.62V499.01M599.7 502.13H609.5M597.1 500.68Q598.14 502.13 599.7 502.13M611.8 500.68Q610.88 502.13 609.5 502.13M599.7 504.45H609.5M599.7 504.45Q598.14 504.45 597.1 506.04M609.5 504.45Q610.88 504.45 611.8 506.04M599.7 502.13V504.45M609.5 502.13V504.45M599.7 507.46H609.5M597.1 506.04Q598.14 507.46 599.7 507.46M611.8 506.04Q610.88 507.46 609.5 507.46M599.7 509.69H609.5M599.7 509.69Q598.14 509.69 597.1 511.2M609.5 509.69Q610.88 509.69 611.8 511.2M599.7 507.46V509.69M609.5 507.46V509.69M599.7 512.57H609.5M597.1 511.2Q598.14 512.57 599.7 512.57M611.8 511.2Q610.88 512.57 609.5 512.57M599.7 514.7H609.5M599.7 514.7Q598.14 514.7 597.1 516.13M609.5 514.7Q610.88 514.7 611.8 516.13M599.7 512.57V514.7M609.5 512.57V514.7M599.7 517.46H609.5M597.1 516.13Q598.14 517.46 599.7 517.46M611.8 516.13Q610.88 517.46 609.5 517.46M599.7 519.48H609.5M599.7 519.48Q598.14 519.48 597.1 520.82M609.5 519.48Q610.88 519.48 611.8 520.82M599.7 517.46V519.48M609.5 517.46V519.48M599.7 522.1H609.5M597.1 520.82Q598.14 522.1 599.7 522.1M611.8 520.82Q610.88 522.1 609.5 522.1M599.7 524.01H609.5M599.7 524.01Q598.14 524.01 597.1 525.25M609.5 524.01Q610.88 524.01 611.8 525.25M599.7 522.1V524.01M609.5 522.1V524.01M599.7 526.46H609.5M597.1 525.25Q598.14 526.46 599.7 526.46M611.8 525.25Q610.88 526.46 609.5 526.46M599.7 528.26H609.5M599.7 528.26Q598.14 528.26 597.1 529.4M609.5 528.26Q610.88 528.26 611.8 529.4M599.7 526.46V528.26M609.5 526.46V528.26M599.7 530.55H609.5M597.1 529.4Q598.14 530.55 599.7 530.55M611.8 529.4Q610.88 530.55 609.5 530.55M599.7 532.21H609.5M599.7 532.21Q598.14 532.21 597.1 533.25M609.5 532.21Q610.88 532.21 611.8 533.25M599.7 530.55V532.21M609.5 530.55V532.21M599.7 534.33H609.5M597.1 533.25Q598.14 534.33 599.7 534.33M611.8 533.25Q610.88 534.33 609.5 534.33M599.7 535.86H609.5M599.7 535.86Q598.14 535.86 597.1 536.8M609.5 535.86Q610.88 535.86 611.8 536.8M599.7 534.33V535.86M609.5 534.33V535.86M599.7 537.8H609.5M597.1 536.8Q598.14 537.8 599.7 537.8M611.8 536.8Q610.88 537.8 609.5 537.8M599.7 539.19H609.5M599.7 539.19Q598.14 539.19 597.1 540.02M609.5 539.19Q610.88 539.19 611.8 540.02M599.7 537.8V539.19M609.5 537.8V539.19M599.7 540.94H609.5M597.1 540.02Q598.14 540.94 599.7 540.94M611.8 540.02Q610.88 540.94 609.5 540.94M599.7 542.19H609.5M599.7 542.19Q598.14 542.19 597.1 542.9M609.5 542.19Q610.88 542.19 611.8 542.9M599.7 540.94V542.19M609.5 540.94V542.19M599.7 543.75H609.5M597.1 542.9Q598.14 543.75 599.7 543.75M611.8 542.9Q610.88 543.75 609.5 543.75M599.7 544.84H609.5M599.7 544.84Q598.14 544.84 597.1 545.43M609.5 544.84Q610.88 544.84 611.8 545.43M599.7 543.75V544.84M609.5 543.75V544.84M599.7 546.2H609.5M597.1 545.43Q598.14 546.2 599.7 546.2M611.8 545.43Q610.88 546.2 609.5 546.2M599.7 547.14H609.5M599.7 547.14Q598.14 547.14 597.1 547.61M609.5 547.14Q610.88 547.14 611.8 547.61M599.7 546.2V547.14M609.5 546.2V547.14M599.7 548.29H609.5M597.1 547.61Q598.14 548.29 599.7 548.29M611.8 547.61Q610.88 548.29 609.5 548.29M599.7 549.07H609.5M599.7 549.07Q598.14 549.07 597.1 549.42M609.5 549.07Q610.88 549.07 611.8 549.42M599.7 548.29V549.07M609.5 548.29V549.07M599.7 550.01H609.5M597.1 549.42Q598.14 550.01 599.7 550.01M611.8 549.42Q610.88 550.01 609.5 550.01M599.7 550.63H609.5M599.7 550.63Q598.5 550.63 597.46 550.86M609.5 550.63Q610.52 550.63 611.44 550.86M599.7 550.01V550.63M609.5 550.01V550.63M599.7 551.36H609.5M597.46 550.86Q598.5 551.36 599.7 551.36M611.44 550.86Q610.52 551.36 609.5 551.36M599.7 551.82H609.5M599.7 551.82Q599.56 551.82 598.52 551.92M609.5 551.82Q609.46 551.82 610.38 551.92M599.7 551.36V551.82M609.5 551.36V551.82M599.7 552.32H609.5M598.52 551.92Q599.56 552.32 599.7 552.32M610.38 551.92Q609.46 552.32 609.5 552.32M599.7 552.62H609.5M599.7 552.62Q600.24 552.62 599.2 552.6M609.5 552.62Q608.78 552.62 609.7 552.6M599.7 552.32V552.62M609.5 552.32V552.62M599.7 552.7H609.5M599.2 552.6Q600.24 552.7 599.7 552.7M609.7 552.6Q608.78 552.7 609.5 552.7M599.7 552.7H609.5M599.7 552.7Q600.34 552.7 599.3 552.7M609.5 552.7Q608.68 552.7 609.6 552.7M599.7 552.7V552.7M609.5 552.7V552.7M599.7 552.7H609.5M599.3 552.7Q600.34 552.7 599.7 552.7M609.6 552.7Q608.68 552.7 609.5 552.7M599.7 552.7V552.7M609.5 552.7V552.7" stroke="#606060" stroke-width="0.6" fill="none"/>
<path d="M599.29 353.11H609.61M599 353.4H609.9M598.32 354.08H610.58M597.26 355.14H611.64M597.1 356.57H611.8M597.1 358.38H611.8M597.1 360.56H611.8M597.1 363.09H611.8M597.1 365.97H611.8M597.1 369.19H611.8M597.1 372.73H611.8M597.1 376.59H611.8M597.1 380.73H611.8M597.1 385.16H611.8M597.1 389.85H611.8M597.1 394.78H611.8M597.1 399.94H611.8M597.1 405.31H611.8M597.1 410.86H611.8M597.1 416.57H611.8M597.1 422.42H611.8M597.1 428.39H611.8M597.1 434.46H611.8M597.1 440.59H611.8M597.1 446.78H611.8M597.1 452.99H611.8M597.1 459.2H611.8M597.1 465.39H611.8M597.1 471.52H611.8M597.1 477.59H611.8M597.1 483.56H611.8M597.1 489.41H611.8M597.1 495.13H611.8M597.1 500.68H611.8M597.1 506.04H611.8M597.1 511.2H611.8M597.1 516.13H611.8M597.1 520.82H611.8M597.1 525.25H611.8M597.1 529.4H611.8M597.1 533.25H611.8M597.1 536.8H611.8M597.1 540.02H611.8M597.1 542.9H611.8M597.1 545.43H611.8M597.1 547.61H611.8M597.1 549.42H611.8M597.46 550.86H611.44M598.52 551.92H610.38M599.2 552.6H609.7M599.3 552.7H609.6" stroke="#262626" stroke-width="1" fill="none"/>
<rect x="597" y="353" width="15.3" height="200" rx="3" fill="none" stroke="#444" stroke-width="0.9"/>
<path d="M597 357 V356 Q597 353 600 353 H609.3 Q612.3 353 612.3 356 V357 Z" fill="#111"/>
<path d="M597 549 V550 Q597 553 600 553 H609.3 Q612.3 553 612.3 550 V549 Z" fill="#111"/>
<path d="M615.7 365.58H631.5V366.57H615.7ZM615.7 369.45H631.5V370.7H615.7ZM615.7 374.23H631.5V375.72H615.7ZM615.7 379.86H631.5V381.58H615.7ZM615.7 386.29H631.5V388.22H615.7ZM615.7 393.44H631.5V395.56H615.7ZM615.7 401.23H631.5V403.52H615.7ZM615.7 409.59H631.5V412.02H615.7ZM615.7 418.42H631.5V420.97H615.7ZM615.7 427.63H631.5V430.26H615.7ZM615.7 437.1H631.5V439.79H615.7ZM615.7 446.75H631.5V449.47H615.7ZM615.7 456.47H631.5V459.18H615.7ZM615.7 466.14H631.5V468.83H615.7ZM615.7 475.67H631.5V478.3H615.7ZM615.7 484.95H631.5V487.49H615.7ZM615.7 493.88H631.5V496.3H615.7ZM615.7 502.36H631.5V504.64H615.7ZM615.7 510.31H631.5V512.42H615.7ZM615.7 517.62H631.5V519.55H615.7ZM615.7 524.23H631.5V525.95H615.7ZM615.7 530.07H631.5V531.55H615.7ZM615.7 535.06H631.5V536.3H615.7ZM615.7 539.15H631.5V540.13H615.7ZM615.7 542.31H631.5V543.02H615.7Z" fill="#d4d4d4"/>
<path d="M615.7 365.58H631.5M613.5 365.59Q613.72 365.58 615.7 365.58M636 365.59Q635.55 365.58 631.5 365.58M615.7 366.57H631.5M615.7 366.57Q613.72 366.57 613.5 369.07M631.5 366.57Q635.55 366.57 636 369.07M615.7 365.58V366.57M631.5 365.58V366.57M615.7 369.45H631.5M613.5 369.07Q613.72 369.45 615.7 369.45M636 369.07Q635.55 369.45 631.5 369.45M615.7 370.7H631.5M615.7 370.7Q613.72 370.7 613.5 373.47M631.5 370.7Q635.55 370.7 636 373.47M615.7 369.45V370.7M631.5 369.45V370.7M615.7 374.23H631.5M613.5 373.47Q613.72 374.23 615.7 374.23M636 373.47Q635.55 374.23 631.5 374.23M615.7 375.72H631.5M615.7 375.72Q613.72 375.72 613.5 378.73M631.5 375.72Q635.55 375.72 636 378.73M615.7 374.23V375.72M631.5 374.23V375.72M615.7 379.86H631.5M613.5 378.73Q613.72 379.86 615.7 379.86M636 378.73Q635.55 379.86 631.5 379.86M615.7 381.58H631.5M615.7 381.58Q613.72 381.58 613.5 384.8M631.5 381.58Q635.55 381.58 636 384.8M615.7 379.86V381.58M631.5 379.86V381.58M615.7 386.29H631.5M613.5 384.8Q613.72 386.29 615.7 386.29M636 384.8Q635.55 386.29 631.5 386.29M615.7 388.22H631.5M615.7 388.22Q613.72 388.22 613.5 391.6M631.5 388.22Q635.55 388.22 636 391.6M615.7 386.29V388.22M631.5 386.29V388.22M615.7 393.44H631.5M613.5 391.6Q613.72 393.44 615.7 393.44M636 391.6Q635.55 393.44 631.5 393.44M615.7 395.56H631.5M615.7 395.56Q613.72 395.56 613.5 399.08M631.5 395.56Q635.55 395.56 636 399.08M615.7 393.44V395.56M631.5 393.44V395.56M615.7 401.23H631.5M613.5 399.08Q613.72 401.23 615.7 401.23M636 399.08Q635.55 401.23 631.5 401.23M615.7 403.52H631.5M615.7 403.52Q613.72 403.52 613.5 407.14M631.5 403.52Q635.55 403.52 636 407.14M615.7 401.23V403.52M631.5 401.23V403.52M615.7 409.59H631.5M613.5 407.14Q613.72 409.59 615.7 409.59M636 407.14Q635.55 409.59 631.5 409.59M615.7 412.02H631.5M615.7 412.02Q613.72 412.02 613.5 415.69M631.5 412.02Q635.55 412.02 636 415.69M615.7 409.59V412.02M631.5 409.59V412.02M615.7 418.42H631.5M613.5 415.69Q613.72 418.42 615.7 418.42M636 415.69Q635.55 418.42 631.5 418.42M615.7 420.97H631.5M615.7 420.97Q613.72 420.97 613.5 424.65M631.5 420.97Q635.55 420.97 636 424.65M615.7 418.42V420.97M631.5 418.42V420.97M615.7 427.63H631.5M613.5 424.65Q613.72 427.63 615.7 427.63M636 424.65Q635.55 427.63 631.5 427.63M615.7 430.26H631.5M615.7 430.26Q613.72 430.26 613.5 433.92M631.5 430.26Q635.55 430.26 636 433.92M615.7 427.63V430.26M631.5 427.63V430.26M615.7 437.1H631.5M613.5 433.92Q613.72 437.1 615.7 437.1M636 433.92Q635.55 437.1 631.5 437.1M615.7 439.79H631.5M615.7 439.79Q613.72 439.79 613.5 443.39M631.5 439.79Q635.55 439.79 636 443.39M615.7 437.1V439.79M631.5 437.1V439.79M615.7 446.75H631.5M613.5 443.39Q613.72 446.75 615.7 446.75M636 443.39Q635.55 446.75 631.5 446.75M615.7 449.47H631.5M615.7 449.47Q613.72 449.47 613.5 452.97M631.5 449.47Q635.55 449.47 636 452.97M615.7 446.75V449.47M631.5 446.75V449.47M615.7 456.47H631.5M613.5 452.97Q613.72 456.47 615.7 456.47M636 452.97Q635.55 456.47 631.5 456.47M615.7 459.18H631.5M615.7 459.18Q613.72 459.18 613.5 462.54M631.5 459.18Q635.55 459.18 636 462.54M615.7 456.47V459.18M631.5 456.47V459.18M615.7 466.14H631.5M613.5 462.54Q613.72 466.14 615.7 466.14M636 462.54Q635.55 466.14 631.5 466.14M615.7 468.83H631.5M615.7 468.83Q613.72 468.83 613.5 472.01M631.5 468.83Q635.55 468.83 636 472.01M615.7 466.14V468.83M631.5 466.14V468.83M615.7 475.67H631.5M613.5 472.01Q613.72 475.67 615.7 475.67M636 472.01Q635.55 475.67 631.5 475.67M615.7 478.3H631.5M615.7 478.3Q613.72 478.3 613.5 481.26M631.5 478.3Q635.55 478.3 636 481.26M615.7 475.67V478.3M631.5 475.67V478.3M615.7 484.95H631.5M613.5 481.26Q613.72 484.95 615.7 484.95M636 481.26Q635.55 484.95 631.5 484.95M615.7 487.49H631.5M615.7 487.49Q613.72 487.49 613.5 490.21M631.5 487.49Q635.55 487.49 636 490.21M615.7 484.95V487.49M631.5 484.95V487.49M615.7 493.88H631.5M613.5 490.21Q613.72 493.88 615.7 493.88M636 490.21Q635.55 493.88 631.5 493.88M615.7 496.3H631.5M615.7 496.3Q613.72 496.3 613.5 498.75M631.5 496.3Q635.55 496.3 636 498.75M615.7 493.88V496.3M631.5 493.88V496.3M615.7 502.36H631.5M613.5 498.75Q613.72 502.36 615.7 502.36M636 498.75Q635.55 502.36 631.5 502.36M615.7 504.64H631.5M615.7 504.64Q613.72 504.64 613.5 506.79M631.5 504.64Q635.55 504.64 636 506.79M615.7 502.36V504.64M631.5 502.36V504.64M615.7 510.31H631.5M613.5 506.79Q613.72 510.31 615.7 510.31M636 506.79Q635.55 510.31 631.5 510.31M615.7 512.42H631.5M615.7 512.42Q613.72 512.42 613.5 514.24M631.5 512.42Q635.55 512.42 636 514.24M615.7 510.31V512.42M631.5 510.31V512.42M615.7 517.62H631.5M613.5 514.24Q613.72 517.62 615.7 517.62M636 514.24Q635.55 517.62 631.5 517.62M615.7 519.55H631.5M615.7 519.55Q613.72 519.55 613.5 521.03M631.5 519.55Q635.55 519.55 636 521.03M615.7 517.62V519.55M631.5 517.62V519.55M615.7 524.23H631.5M613.5 521.03Q613.72 524.23 615.7 524.23M636 521.03Q635.55 524.23 631.5 524.23M615.7 525.95H631.5M615.7 525.95Q613.72 525.95 613.5 527.07M631.5 525.95Q635.55 525.95 636 527.07M615.7 524.23V525.95M631.5 524.23V525.95M615.7 530.07H631.5M613.5 527.07Q613.72 530.07 615.7 530.07M636 527.07Q635.55 530.07 631.5 530.07M615.7 531.55H631.5M615.7 531.55Q613.72 531.55 613.5 532.3M631.5 531.55Q635.55 531.55 636 532.3M615.7 530.07V531.55M631.5 530.07V531.55M615.7 535.06H631.5M613.5 532.3Q613.72 535.06 615.7 535.06M636 532.3Q635.55 535.06 631.5 535.06M615.7 536.3H631.5M615.7 536.3Q613.72 536.3 613.5 536.66M631.5 536.3Q635.55 536.3 636 536.66M615.7 535.06V536.3M631.5 535.06V536.3M615.7 539.15H631.5M613.5 536.66Q613.72 539.15 615.7 539.15M636 536.66Q635.55 539.15 631.5 539.15M615.7 540.13H631.5M615.7 540.13Q613.72 540.13 613.5 540.12M631.5 540.13Q635.55 540.13 636 540.12M615.7 539.15V540.13M631.5 539.15V540.13M615.7 542.31H631.5M613.5 540.12Q613.72 542.31 615.7 542.31M636 540.12Q635.55 542.31 631.5 542.31M615.7 543.02H631.5M615.7 543.02Q613.72 543.02 613.5 542.62M631.5 543.02Q635.55 543.02 636 542.62M615.7 542.31V543.02M631.5 542.31V543.02" stroke="#383838" stroke-width="0.85" fill="none"/>
<path d="M613.5 365.59H636M613.5 369.07H636M613.5 373.47H636M613.5 378.73H636M613.5 384.8H636M613.5 391.6H636M613.5 399.08H636M613.5 407.14H636M613.5 415.69H636M613.5 424.65H636M613.5 433.92H636M613.5 443.39H636M613.5 452.97H636M613.5 462.54H636M613.5 472.01H636M613.5 481.26H636M613.5 490.21H636M613.5 498.75H636M613.5 506.79H636M613.5 514.24H636M613.5 521.03H636M613.5 527.07H636M613.5 532.3H636M613.5 536.66H636M613.5 540.12H636" stroke="#222" stroke-width="1.25" fill="none"/>
<path d="M613.2 359.8 H630.5 Q638.5 359.8 638.5 367.8 V538 Q638.5 546 630.5 546 H613.2" fill="none" stroke="#333" stroke-width="1.1"/>
<line x1="613.2" y1="359.8" x2="613.2" y2="546" stroke="#333" stroke-width="1"/>
<rect x="615" y="361" width="17" height="2.4" fill="#888" stroke="#444" stroke-width="0.6"/>
<rect x="615" y="542.6" width="17" height="2.4" fill="#888" stroke="#444" stroke-width="0.6"/>
<path d="M67.9 296.7 L99.9 296.7 L141 328.5" stroke="#6a6a6a" stroke-width="1" fill="none"/>
<path d="M141 328.5 L131.03 318.51 L128.83 321.36 Z" fill="#111" stroke="#111" stroke-width="0.6"/>
<path d="M699.5 179.5 L667.5 179.5 L522.5 333" stroke="#6a6a6a" stroke-width="1" fill="none"/>
<path d="M522.5 333 L531.71 325.88 L529.09 323.4 Z" fill="#111" stroke="#111" stroke-width="0.6"/>
<path d="M715.6 226.5 L667.5 226.5 L555.9 352.1" stroke="#6a6a6a" stroke-width="1" fill="none"/>
<path d="M555.9 352.1 L564.88 344.7 L562.19 342.31 Z" fill="#111" stroke="#111" stroke-width="0.6"/>
<path d="M718 282.2 L665.4 282.2 L602 352.5" stroke="#6a6a6a" stroke-width="1" fill="none"/>
<path d="M602 352.5 L611.04 345.17 L608.37 342.75 Z" fill="#111" stroke="#111" stroke-width="0.6"/>
<path d="M715.6 326.6 L667.5 326.6 L613 360" stroke="#6a6a6a" stroke-width="1" fill="none"/>
<path d="M613 360 L623.75 355.53 L621.86 352.46 Z" fill="#111" stroke="#111" stroke-width="0.6"/>
<text x="67.3" y="291.8" font-size="13.6" fill="#2e2e2e" stroke="#2e2e2e" stroke-width="0.3" textLength="43.3" lengthAdjust="spacingAndGlyphs">M68×1</text>
<text x="669.5" y="174.5" font-size="14" fill="#2e2e2e" stroke="#2e2e2e" stroke-width="0.3" textLength="43.5" lengthAdjust="spacingAndGlyphs">M68×1</text>
<text x="670" y="219.75" font-size="14" fill="#2e2e2e" stroke="#2e2e2e" stroke-width="0.3" textLength="67" lengthAdjust="spacingAndGlyphs">M54×0.75</text>
<text x="668.7" y="278.6" font-size="14" fill="#2e2e2e" stroke="#2e2e2e" stroke-width="0.3" textLength="96.7" lengthAdjust="spacingAndGlyphs">2"filter thread</text>
<text x="668.75" y="323" font-size="14" fill="#2e2e2e" stroke="#2e2e2e" stroke-width="0.3" textLength="67.5" lengthAdjust="spacingAndGlyphs">M48×0.75</text>
<text x="67.5" y="450.3" font-size="14" fill="#2e2e2e" stroke="#2e2e2e" stroke-width="0.3" textLength="16.8" lengthAdjust="spacingAndGlyphs" transform="rotate(-90 67.5 450.3)">72</text>
<circle cx="62.3" cy="462.5" r="4.4" fill="none" stroke="#333" stroke-width="1.05"/>
<line x1="56.8" y1="460.4" x2="68.2" y2="464.9" stroke="#333" stroke-width="1.05"/>
<text x="395" y="463" font-size="14" fill="#2e2e2e" stroke="#2e2e2e" stroke-width="0.3" textLength="43" lengthAdjust="spacingAndGlyphs" transform="rotate(-90 395 463)">M84×1</text>
<text x="260.5" y="631.5" font-size="12" fill="#2e2e2e" stroke="#2e2e2e" stroke-width="0.08" textLength="37.5" lengthAdjust="spacingAndGlyphs">98mm</text>
<text x="471" y="632.5" font-size="12" fill="#2e2e2e" stroke="#2e2e2e" stroke-width="0.08" textLength="36.5" lengthAdjust="spacingAndGlyphs">17mm</text>
<text x="520.3" y="632" font-size="12" fill="#2e2e2e" stroke="#2e2e2e" stroke-width="0.08" textLength="29.7" lengthAdjust="spacingAndGlyphs">9mm</text>
<text x="563.6" y="632" font-size="12" fill="#2e2e2e" stroke="#2e2e2e" stroke-width="0.08" textLength="36.4" lengthAdjust="spacingAndGlyphs">18mm</text>
<text x="651.6" y="631.4" font-size="12" fill="#2e2e2e" stroke="#2e2e2e" stroke-width="0.08" textLength="37.4" lengthAdjust="spacingAndGlyphs">55mm</text>
<text x="756.9" y="470.4" font-size="14" fill="#2e2e2e" stroke="#2e2e2e" stroke-width="0.3" textLength="35.6" lengthAdjust="spacingAndGlyphs">Focal</text>
<text x="756.9" y="488" font-size="14" fill="#2e2e2e" stroke="#2e2e2e" stroke-width="0.3" textLength="38.7" lengthAdjust="spacingAndGlyphs">Plane</text>
</g></svg></body></html>
